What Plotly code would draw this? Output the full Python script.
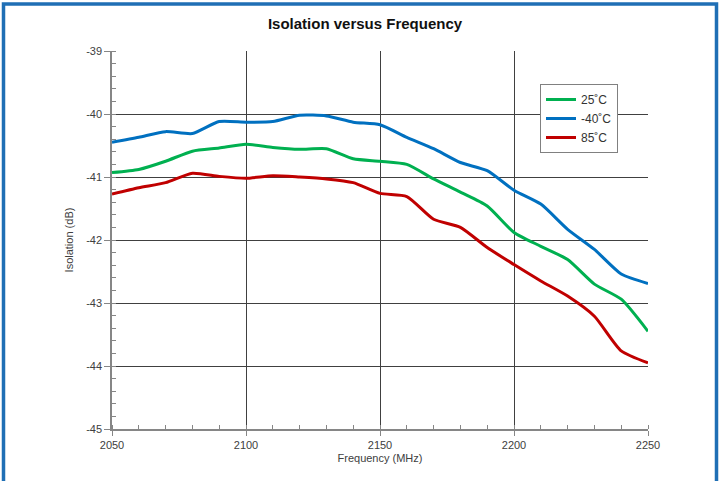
import plotly.graph_objects as go

freq = [2050, 2060, 2070, 2080, 2090, 2100, 2110, 2120, 2130, 2140, 2150,
        2160, 2170, 2180, 2190, 2200, 2210, 2220, 2230, 2240, 2250]

iso_25 = [-40.93, -40.88, -40.75, -40.59, -40.54, -40.48, -40.53, -40.56, -40.55, -40.71, -40.75,
          -40.80, -41.03, -41.24, -41.46, -41.88, -42.10, -42.31, -42.70, -42.94, -43.45]
iso_m40 = [-40.45, -40.37, -40.28, -40.31, -40.12, -40.13, -40.12, -40.02, -40.03, -40.13, -40.17,
           -40.37, -40.55, -40.77, -40.90, -41.21, -41.43, -41.83, -42.15, -42.54, -42.69]
iso_85 = [-41.27, -41.17, -41.09, -40.94, -40.99, -41.02, -40.98, -41.00, -41.03, -41.09, -41.26,
          -41.31, -41.67, -41.80, -42.12, -42.39, -42.65, -42.89, -43.21, -43.76, -43.95]

y_tick_vals = [-45, -44, -43, -42, -41, -40, -39]
y_tick_text = ["-45", "-44", "-43", "-42", "-41", "-40", "-39"]

series = [("25˚C", iso_25, "#00B050"),
          ("-40˚C", iso_m40, "#0070C0"),
          ("85˚C", iso_85, "#C00000")]

fig = go.Figure()
for name, vals, col in series:
    fig.add_trace(go.Scatter(x=freq, y=vals, name=name, mode="lines",
                             line=dict(color=col, width=3, shape="spline", smoothing=0.6)))

W, H = 719, 481
ml, mr, mt, mb = 112, 71, 51, 52
pw, ph = W - ml - mr, H - mt - mb

def px(xp):
    return (xp - ml) / pw

def py(yp):
    return (H - mb - yp) / ph

axis_font = dict(family="Arial, Liberation Sans, sans-serif", size=11, color="#404040")

fig.update_layout(
    width=W, height=H,
    margin=dict(l=ml, r=mr, t=mt, b=mb),
    paper_bgcolor="white", plot_bgcolor="white",
    title=dict(text="<b>Isolation versus Frequency</b>", x=365 / W, xanchor="center",
               y=1 - 24 / H, yanchor="middle",
               font=dict(family="Arial, Liberation Sans, sans-serif", size=15, color="#111111")),
    font=axis_font,
    legend=dict(x=px(540), y=py(84), xanchor="left", yanchor="top",
                bordercolor="#808080", borderwidth=1, bgcolor="white",
                font=dict(family="Arial, Liberation Sans, sans-serif", size=12, color="#333333")),
    showlegend=True,
)

fig.update_xaxes(range=[2050, 2250], tickmode="linear", tick0=2050, dtick=50,
                 showgrid=True, gridcolor="#404040", gridwidth=1,
                 showline=True, linecolor="#868686", linewidth=1.5,
                 ticks="outside", ticklen=5, tickcolor="#868686",
                 minor=dict(dtick=10, ticks="inside", ticklen=4, tickcolor="#868686", showgrid=False),
                 zeroline=False, tickfont=axis_font,
                 title=dict(text="Frequency (MHz)", font=axis_font, standoff=4))
fig.update_yaxes(range=[-45, -39], tickmode="array", tickvals=y_tick_vals, ticktext=y_tick_text,
                 showgrid=True, gridcolor="#404040", gridwidth=1,
                 showline=True, linecolor="#868686", linewidth=1.5,
                 ticks="outside", ticklen=6, tickcolor="#868686",
                 minor=dict(tickmode="linear", tick0=-45, dtick=0.2, ticks="inside", ticklen=4,
                            tickcolor="#868686", showgrid=False),
                 zeroline=False, tickfont=axis_font,
                 title=dict(text="Isolation (dB)", font=axis_font, standoff=10))

# outer blue frame
fig.add_shape(type="rect", xref="paper", yref="paper",
              x0=px(3.5), x1=px(716.5), y0=py(495), y1=py(4),
              line=dict(color="#1F6FB5", width=3.5), fillcolor="rgba(0,0,0,0)", layer="above")

fig.write_html("out.html", config={"displayModeBar": False},
               post_script="document.body.style.margin='0px';document.body.style.overflow='hidden';")
